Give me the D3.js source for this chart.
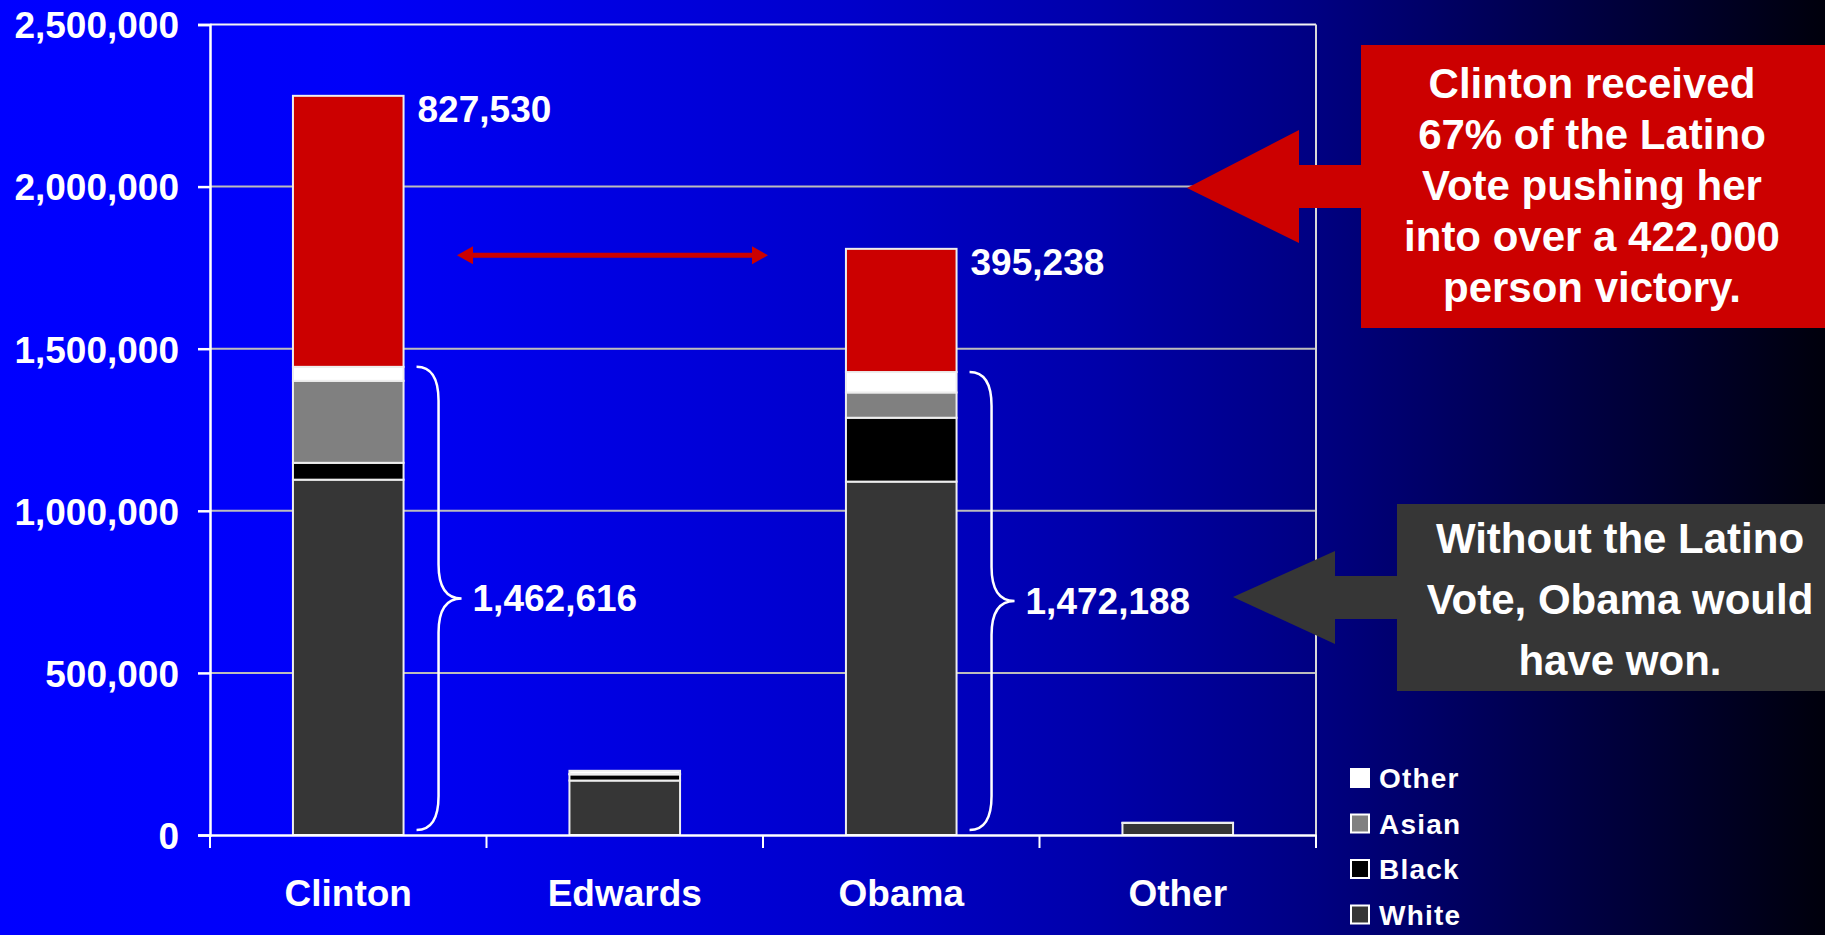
<!DOCTYPE html>
<html><head><meta charset="utf-8">
<script src="https://cdn.jsdelivr.net/npm/d3@7"></script>
<style>
body{margin:0;overflow:hidden;background:#000}
text{font-family:"Liberation Sans",Arial,Helvetica,sans-serif;font-weight:bold;fill:#fff}
</style>
</head><body>
<svg id="c" width="1825" height="935"></svg>
<script>
// ---- data ----
const categories = ["Clinton", "Edwards", "Obama", "Other"];
const groups = ["White", "Black", "Asian", "Other", "Latino"];
const whiteVotes  = [1096000, 168000, 1090000, 37000];
const blackVotes  = [52000, 19000, 197000, 0];
const asianVotes  = [253000, 1000, 78000, 0];
const otherVotes  = [43000, 10000, 63000, 1000];
const latinoVotes = [836000, 0, 380000, 0];
const yTicks = [0, 500000, 1000000, 1500000, 2000000, 2500000];
const topLabels = ["827,530", "", "395,238", ""];
const braceLabels = ["1,462,616", "", "1,472,188", ""];
const legendItems = ["Other", "Asian", "Black", "White"];
const calloutRed = ["Clinton received", "67% of the Latino", "Vote pushing her", "into over a 422,000", "person victory."];
const calloutGray = ["Without the Latino", "Vote, Obama would", "have won."];

const colors = {White: "#363636", Black: "#000000", Asian: "#808080", Other: "#ffffff", Latino: "#cc0000"};

const table = categories.map((c, i) => ({
  cat: c, White: whiteVotes[i], Black: blackVotes[i], Asian: asianVotes[i],
  Other: otherVotes[i], Latino: latinoVotes[i]
}));

const svg = d3.select("#c");
const W = 1825, H = 935;

// background gradient
const defs = svg.append("defs");
const grad = defs.append("linearGradient").attr("id", "bg").attr("x1", "0").attr("x2", "1").attr("y1", "0").attr("y2", "0");
[[0, "#0000ff"], [0.2, "#0000f8"], [0.46, "#0000cc"], [0.6, "#0000aa"], [0.72, "#000082"], [0.85, "#00004a"], [1, "#00000c"]]
  .forEach(([o, c]) => grad.append("stop").attr("offset", o).attr("stop-color", c));
svg.append("rect").attr("width", W).attr("height", H).attr("fill", "url(#bg)");

// scales
const x = d3.scaleBand().domain(categories).range([210, 1316]).paddingInner(0).paddingOuter(0);
const y = d3.scaleLinear().domain([0, 2500000]).range([835, 24.5]);
const barW = x.bandwidth() * 0.4;
const barX = c => x(c) + (x.bandwidth() - barW) / 2;

// gridlines
svg.append("g").selectAll("line").data(yTicks.filter(t => t > 0)).join("line")
  .attr("x1", 210).attr("x2", 1316)
  .attr("y1", d => y(d)).attr("y2", d => y(d))
  .attr("stroke", d => d === 2500000 ? "#f4f4f4" : "#bcbcbc").attr("stroke-width", 2);
svg.append("line").attr("x1", 1316).attr("x2", 1316).attr("y1", y(2500000)).attr("y2", y(0))
  .attr("stroke", "#d8d8d8").attr("stroke-width", 2);

// stacked bars
const stack = d3.stack().keys(groups)(table);
svg.append("g").selectAll("g").data(stack).join("g")
  .attr("fill", d => colors[d.key])
  .selectAll("rect").data(d => d.filter(s => s[1] - s[0] > 0)).join("rect")
  .attr("x", d => barX(d.data.cat)).attr("width", barW)
  .attr("y", d => y(d[1])).attr("height", d => y(d[0]) - y(d[1]))
  .attr("stroke", "#eeeeee").attr("stroke-width", 2);

// axes
const yAxis = svg.append("g").attr("transform", "translate(210,0)")
  .call(d3.axisLeft(y).tickValues(yTicks).tickSize(12).tickPadding(19).tickFormat(d3.format(",")));
yAxis.selectAll("path,line").attr("stroke", "#ffffff").attr("stroke-width", 2.5);
yAxis.selectAll("text").attr("font-size", 37).attr("dy", "0.36em").style("fill", "#fff");

const xAxis = svg.append("g").attr("transform", "translate(0,835)")
  .call(d3.axisBottom(x).tickSize(0).tickSizeOuter(0).tickPadding(45));
xAxis.selectAll("path").attr("stroke", "#ffffff").attr("stroke-width", 2.5);
xAxis.selectAll("text").attr("font-size", 37).style("fill", "#fff");
const bounds = categories.map(c => x(c)).concat([x.range()[1]]);
svg.append("g").selectAll("line").data(bounds).join("line")
  .attr("x1", d => d).attr("x2", d => d).attr("y1", 835).attr("y2", 848)
  .attr("stroke", "#ffffff").attr("stroke-width", 2);

// top value labels
const totals = table.map(d => groups.reduce((s, k) => s + d[k], 0));
const nonLatino = table.map(d => d.White + d.Black + d.Asian + d.Other);
svg.append("g").selectAll("text").data(categories.filter((c, i) => topLabels[i])).join("text")
  .attr("x", c => barX(c) + barW + 14)
  .attr("y", c => y(totals[categories.indexOf(c)]) + 26)
  .attr("font-size", 37)
  .text(c => topLabels[categories.indexOf(c)]);

// braces
const braceCats = categories.filter((c, i) => braceLabels[i]);
braceCats.forEach(c => {
  const i = categories.indexOf(c);
  const x0 = barX(c) + barW + 13, x1 = x0 + 22, x2 = x0 + 45;
  const yT = y(nonLatino[i]), yB = y(0) - 5, yM = (yT + yB) / 2, r = 34;
  const p = `M${x0},${yT} Q${x1},${yT} ${x1},${yT + r} L${x1},${yM - r} Q${x1},${yM} ${x2},${yM} ` +
            `Q${x1},${yM} ${x1},${yM + r} L${x1},${yB - r} Q${x1},${yB} ${x0},${yB}`;
  svg.append("path").attr("d", p).attr("fill", "none").attr("stroke", "#ffffff").attr("stroke-width", 2.5);
  svg.append("text").attr("x", x2 + 11).attr("y", yM).attr("dy", "0.35em")
    .attr("font-size", 37).text(braceLabels[i]);
});

// double-headed red arrow between Clinton and Obama
(() => {
  const yA = y(1788000);
  const xa = 457, xb = 768, hl = 16, hh = 9, sh = 2.5;
  svg.append("path").attr("fill", "#cc0000").attr("d",
    `M${xa},${yA} L${xa + hl},${yA - hh} L${xa + hl},${yA - sh} L${xb - hl},${yA - sh} L${xb - hl},${yA - hh} ` +
    `L${xb},${yA} L${xb - hl},${yA + hh} L${xb - hl},${yA + sh} L${xa + hl},${yA + sh} L${xa + hl},${yA + hh} Z`);
})();

// red callout
svg.append("path").attr("fill", "#cc0000").attr("d",
  `M1187,${y(2000000) + 1.5} L1299,130 L1299,165 L1366,165 L1366,208 L1299,208 L1299,243 Z`);
svg.append("rect").attr("x", 1361).attr("y", 45).attr("width", 480).attr("height", 283).attr("fill", "#cc0000");
svg.append("g").selectAll("text").data(calloutRed).join("text")
  .attr("x", 1592).attr("y", (d, i) => 98 + i * 51)
  .attr("text-anchor", "middle").attr("font-size", 42).text(d => d);

// gray callout
svg.append("path").attr("fill", "#363636").attr("d",
  `M1233,597 L1335,551 L1335,576 L1400,576 L1400,619 L1335,619 L1335,644 Z`);
svg.append("rect").attr("x", 1397).attr("y", 504).attr("width", 450).attr("height", 187).attr("fill", "#363636");
svg.append("g").selectAll("text").data(calloutGray).join("text")
  .attr("x", 1620).attr("y", (d, i) => 553 + i * 61)
  .attr("text-anchor", "middle").attr("font-size", 42).text(d => d);

// legend
const lg = svg.append("g").selectAll("g").data(legendItems).join("g")
  .attr("transform", (d, i) => `translate(1351,${778 + i * 45.5})`);
lg.append("rect").attr("x", 0).attr("y", -9).attr("width", 18).attr("height", 18)
  .attr("fill", d => colors[d]).attr("stroke", "#ffffff").attr("stroke-width", 2);
lg.append("text").attr("x", 28).attr("y", 10).attr("font-size", 28)
  .attr("letter-spacing", 1.2).text(d => d);
</script>
</body></html>
